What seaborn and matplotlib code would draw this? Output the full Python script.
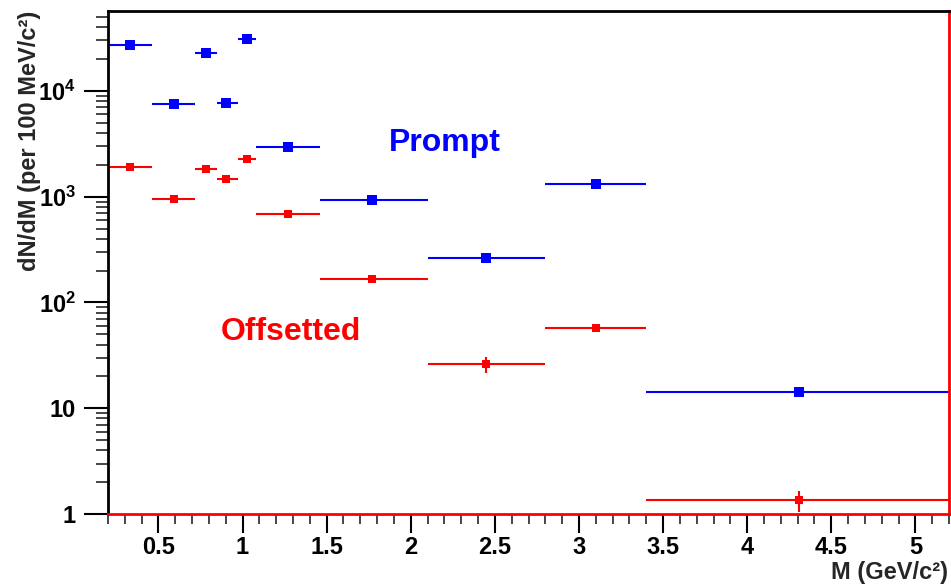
import numpy as np
import pandas as pd
import matplotlib
matplotlib.use("Agg")
import matplotlib.pyplot as plt
import seaborn as sns
from matplotlib.ticker import FixedLocator, LogLocator, MultipleLocator, NullFormatter

# Mass bins (GeV/c^2): point position and bin edges
mass_center = [0.33, 0.59, 0.78, 0.90, 1.025, 1.27, 1.77, 2.45, 3.10, 4.31]
bin_low = [0.20, 0.46, 0.72, 0.85, 0.97, 1.08, 1.46, 2.10, 2.80, 3.40]
bin_high = [0.46, 0.72, 0.85, 0.97, 1.08, 1.46, 2.10, 2.80, 3.40, 5.30]

# dN/dM per 100 MeV/c^2
prompt = [27000, 7540, 23000, 7700, 31100, 2970, 923, 264, 1327, 14.1]
prompt_err = [500, 200, 450, 200, 550, 80, 30, 10, 40, 1.0]
offsetted = [1905, 951, 1837, 1457, 2297, 681, 165, 26.2, 57.7, 1.35]
offsetted_err = [110, 60, 110, 90, 150, 45, 12, 4.5, 3.0, 0.3]

y_ticks = [1, 10, 100, 1000, 10000]
y_tick_labels = ["1", "10", r"$\mathbf{10^{2}}$", r"$\mathbf{10^{3}}$", r"$\mathbf{10^{4}}$"]
x_ticks = [0.5, 1, 1.5, 2, 2.5, 3, 3.5, 4, 4.5, 5]
x_tick_labels = ["0.5", "1", "1.5", "2", "2.5", "3", "3.5", "4", "4.5", "5"]

sns.set_theme(style="ticks")
plt.rcParams["font.family"] = ["Liberation Sans", "DejaVu Sans"]
plt.rcParams["font.weight"] = "bold"
plt.rcParams["mathtext.fontset"] = "custom"
plt.rcParams["mathtext.rm"] = "Liberation Sans"
plt.rcParams["mathtext.bf"] = "Liberation Sans:bold"

df = pd.DataFrame({
    "M": mass_center * 2,
    "lo": bin_low * 2,
    "hi": bin_high * 2,
    "dNdM": prompt + offsetted,
    "err": prompt_err + offsetted_err,
    "sample": ["Prompt"] * len(prompt) + ["Offsetted"] * len(offsetted),
})

BLUE = "#0000ff"
RED = "#ff0000"
palette = {"Prompt": BLUE, "Offsetted": RED}

fig = plt.figure(figsize=(9.51, 5.84), dpi=100)
ax = fig.add_axes([108 / 951, 1 - 514 / 584, (949 - 108) / 951, (514 - 11) / 584])
ax.set_yscale("log")

for name, sub in df.groupby("sample", sort=False):
    xerr = np.vstack([sub["M"] - sub["lo"], sub["hi"] - sub["M"]])
    ax.errorbar(sub["M"], sub["dNdM"], xerr=xerr, yerr=sub["err"], fmt="none",
                ecolor=palette[name], elinewidth=1.5, capsize=0, zorder=2)

sns.scatterplot(data=df[df["sample"] == "Prompt"], x="M", y="dNdM", color=BLUE,
                marker="s", s=46, edgecolor=BLUE, linewidth=0, ax=ax, zorder=3, legend=False)
sns.scatterplot(data=df[df["sample"] == "Offsetted"], x="M", y="dNdM", color=RED,
                marker="s", s=28, edgecolor=RED, linewidth=0, ax=ax, zorder=3, legend=False)

ax.set_xlim(0.2, 5.2)
ax.set_ylim(1, 5.7e4)

ax.text(2.2, 3230, "Prompt", color=BLUE, fontsize=23, fontweight="bold", ha="center", va="center")
ax.text(1.29, 53, "Offsetted", color=RED, fontsize=23, fontweight="bold", ha="center", va="center")

# axis ticks (outward, on left and bottom only)
ax.yaxis.set_major_locator(FixedLocator(y_ticks))
ax.set_yticklabels(y_tick_labels)
ax.yaxis.set_minor_locator(LogLocator(base=10, subs=np.arange(2, 10)))
ax.yaxis.set_minor_formatter(NullFormatter())
ax.xaxis.set_major_locator(FixedLocator(x_ticks))
ax.set_xticklabels(x_tick_labels)
ax.xaxis.set_minor_locator(MultipleLocator(0.1))
ax.tick_params(axis="y", which="major", direction="out", length=17, width=1.5,
               labelsize=17, pad=6, colors="black")
ax.tick_params(axis="y", which="minor", direction="out", length=9, width=1.2)
ax.tick_params(axis="x", which="major", direction="out", length=14, width=1.5,
               labelsize=17, pad=2, colors="black")
ax.tick_params(axis="x", which="minor", direction="out", length=7, width=1.2)
for lab in ax.get_xticklabels() + ax.get_yticklabels():
    lab.set_fontweight("bold")

for side in ["left", "top"]:
    ax.spines[side].set_color("black")
    ax.spines[side].set_linewidth(2)
for side in ["bottom", "right"]:
    ax.spines[side].set_color(RED)
    ax.spines[side].set_linewidth(2)
ax.spines["bottom"].set_zorder(5)

ax.set_xlabel("")
ax.set_ylabel("")
fig.text(948 / 951, 1 - 573 / 584, "M (GeV/c²)", fontsize=17, fontweight="bold",
         ha="right", va="center")
fig.text(30 / 951, 1 - 11 / 584, "dN/dM (per 100 MeV/c²)", fontsize=17, fontweight="bold",
         rotation=90, ha="center", va="top")

fig.savefig("out.png", dpi=100)
